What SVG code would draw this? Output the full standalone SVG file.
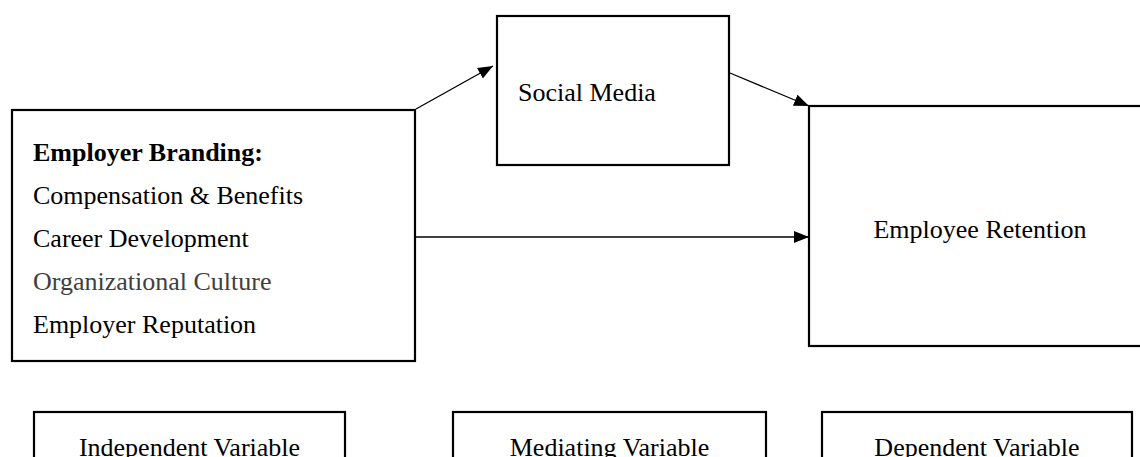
<svg xmlns="http://www.w3.org/2000/svg" width="1140" height="457" viewBox="0 0 1140 457">
<defs>
<style>
.box{fill:#fff;stroke:#000;stroke-width:2.2}
.t{font-family:"Liberation Serif","Times New Roman",serif;font-size:26px;fill:#000}
.b{font-weight:bold}
.g{fill:#404040}
.c{text-anchor:middle}
.conn{stroke:#000;stroke-width:1.3;fill:none;marker-end:url(#ah)}
</style>
<marker id="ah" markerUnits="userSpaceOnUse" markerWidth="16" markerHeight="12" refX="15" refY="6" orient="auto">
<path d="M0,0 L15,6 L0,12 z" fill="#000"/>
</marker>
</defs>
<g id="connectors">
<line class="conn" x1="416" y1="109" x2="493" y2="66"/>
<line class="conn" x1="730" y1="73" x2="809" y2="106"/>
<line class="conn" x1="416" y1="237" x2="809" y2="237"/>
</g>
<g id="employer-branding">
<rect class="box" x="12" y="110" width="403" height="251"/>
<text class="t b" x="33" y="161">Employer Branding:</text>
<text class="t" x="33" y="204">Compensation &amp; Benefits</text>
<text class="t" x="33" y="247">Career Development</text>
<text class="t g" x="33" y="290">Organizational Culture</text>
<text class="t" x="33" y="333">Employer Reputation</text>
</g>
<g id="social-media">
<rect class="box" x="497" y="16" width="232" height="149"/>
<text class="t" x="518" y="101">Social Media</text>
</g>
<g id="employee-retention">
<rect class="box" x="809" y="106" width="345" height="240"/>
<text class="t c" x="980" y="238">Employee Retention</text>
</g>
<g id="independent-variable">
<rect class="box" x="34" y="412" width="311" height="60"/>
<text class="t c" x="189.5" y="456">Independent Variable</text>
</g>
<g id="mediating-variable">
<rect class="box" x="453" y="412" width="313" height="60"/>
<text class="t c" x="609.5" y="456">Mediating Variable</text>
</g>
<g id="dependent-variable">
<rect class="box" x="822" y="412" width="310" height="60"/>
<text class="t c" x="977" y="456">Dependent Variable</text>
</g>
</svg>
